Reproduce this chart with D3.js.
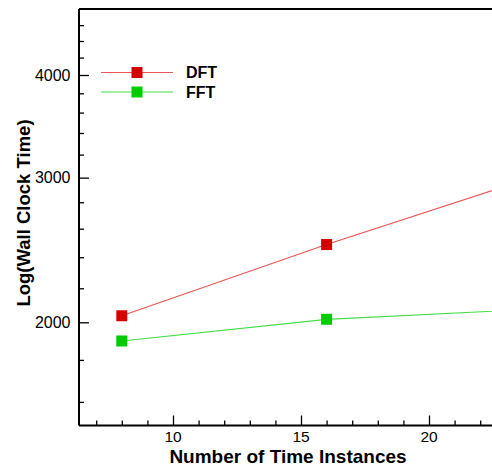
<!DOCTYPE html>
<html><head><meta charset="utf-8">
<script src="https://cdn.jsdelivr.net/npm/d3@7"></script>
<style>body{margin:0;background:#fff}svg{display:block}text{font-family:"Liberation Sans",Arial,sans-serif}</style>
</head><body><svg id="c" width="492" height="466"></svg>
<script>
const instances = [8, 16, 24];
const dftTime = [2037, 2487, 3000];
const fftTime = [1898, 2017, 2074];
const seriesNames = ["DFT", "FFT"];
const seriesColors = ["#d40000", "#00cc00"];
const lineColors = ["#e85555", "#44dd44"];
const yMajorTicks = [2000, 3000, 4000];
const yMinorTicks = [1600, 1800, 2200, 2400, 2600, 2800, 3200, 3400, 3600, 3800, 4200, 4400, 4600];
const xMajorTicks = [10, 15, 20];
const xMinorTicks = [7, 8, 9, 11, 12, 13, 14, 16, 17, 18, 19, 21, 22];

const svg = d3.select("#c");
const L = 79, T = 9, B = 425.5;
const x = d3.scaleLinear().domain([10, 20]).range([173, 429]);
const y = d3.scaleLog().domain([2000, 4000]).range([322.3, 75]);
const R = 560;

svg.append("clipPath").attr("id","cp").append("rect").attr("x",L).attr("y",T).attr("width",R-L).attr("height",B-T);

// axes with inward ticks
const yAxisMajor = d3.axisRight(y).tickValues(yMajorTicks).tickSize(10).tickFormat("");
const yAxisMinor = d3.axisRight(y).tickValues(yMinorTicks).tickSize(5).tickFormat("");
const xAxisMajor = d3.axisTop(x).tickValues(xMajorTicks).tickSize(10).tickFormat("");
const xAxisMinor = d3.axisTop(x).tickValues(xMinorTicks).tickSize(5).tickFormat("");

function styleAxis(g){ g.select(".domain").remove(); g.selectAll("line").attr("stroke","#000").attr("stroke-width",1.3); }
svg.append("g").attr("transform",`translate(${L},0)`).call(yAxisMajor).call(styleAxis);
svg.append("g").attr("transform",`translate(${L},0)`).call(yAxisMinor).call(styleAxis);
svg.append("g").attr("transform",`translate(0,${B})`).call(xAxisMajor).call(styleAxis);
svg.append("g").attr("transform",`translate(0,${B})`).call(xAxisMinor).call(styleAxis);

// frame
svg.append("line").attr("x1",L).attr("x2",L).attr("y1",T).attr("y2",B).attr("stroke","#000").attr("stroke-width",2);
svg.append("line").attr("x1",L).attr("x2",492).attr("y1",B).attr("y2",B).attr("stroke","#000").attr("stroke-width",2);
svg.append("line").attr("x1",L).attr("x2",492).attr("y1",T).attr("y2",T).attr("stroke","#000").attr("stroke-width",2);

// tick labels
svg.append("g").selectAll("text").data(yMajorTicks).join("text")
  .attr("x",70.5).attr("y",d=>y(d)+5.5).attr("text-anchor","end").attr("font-size",16).text(d=>d);
svg.append("g").selectAll("text").data(xMajorTicks).join("text")
  .attr("x",d=>x(d)).attr("y",442).attr("text-anchor","middle").attr("font-size",15.5).text(d=>d);

// axis titles
svg.append("text").attr("x",288).attr("y",462.5).attr("text-anchor","middle").attr("font-size",19).attr("font-weight","bold").text("Number of Time Instances");
svg.append("text").attr("transform","translate(30,213) rotate(-90)").attr("text-anchor","middle").attr("font-size",18.5).attr("font-weight","bold").text("Log(Wall Clock Time)");

// series
const data = [dftTime, fftTime];
const line = d3.line().x((d,i)=>x(instances[i])).y(d=>y(d));
const g = svg.append("g").attr("clip-path","url(#cp)");
data.forEach((vals,k)=>{
  g.append("path").datum(vals).attr("d",line).attr("fill","none").attr("stroke",lineColors[k]).attr("stroke-width",1.2);
  g.selectAll(null).data(vals).join("rect")
    .attr("x",(d,i)=>x(instances[i])-5.5).attr("y",d=>y(d)-5.5).attr("width",11).attr("height",11)
    .attr("fill",seriesColors[k]);
});

// legend
const legY = [72.5, 92];
seriesNames.forEach((n,k)=>{
  svg.append("line").attr("x1",101).attr("x2",173).attr("y1",legY[k]).attr("y2",legY[k]).attr("stroke",lineColors[k]).attr("stroke-width",1.2);
  svg.append("rect").attr("x",137-5.5).attr("y",legY[k]-5.5).attr("width",11).attr("height",11).attr("fill",seriesColors[k]);
  svg.append("text").attr("x",186).attr("y",legY[k]+5.5).attr("font-size",16).attr("font-weight","bold").text(n);
});
</script></body></html>
